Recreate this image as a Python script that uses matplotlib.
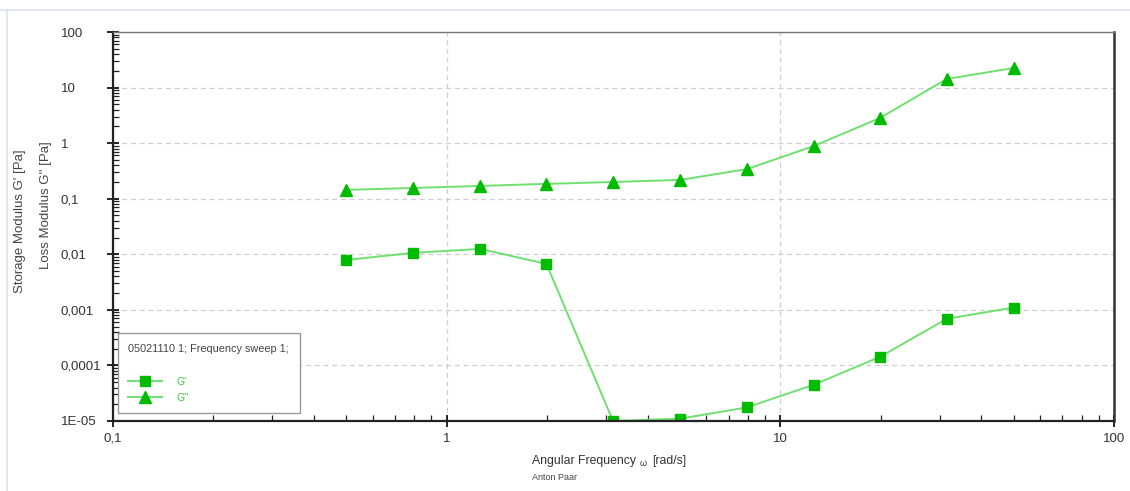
import numpy as np
import matplotlib
matplotlib.use('Agg')
import matplotlib.pyplot as plt
from matplotlib.lines import Line2D
from matplotlib.ticker import FixedLocator, FixedFormatter, LogLocator, NullFormatter

plt.rcParams['font.family'] = ['Liberation Sans', 'DejaVu Sans']

# Frequency sweep data
omega = [0.5, 0.792, 1.26, 1.99, 3.15, 5.0, 7.92, 12.6, 19.9, 31.5, 50.0]
g_storage = [0.0079, 0.0106, 0.0125, 0.0067, 1.0e-5, 1.1e-5, 1.75e-5, 4.5e-5, 1.43e-4, 6.9e-4, 1.1e-3]
g_loss = [0.144, 0.156, 0.17, 0.185, 0.2, 0.218, 0.34, 0.89, 2.85, 14.3, 22.5]

y_ticks = [1e-5, 1e-4, 1e-3, 1e-2, 1e-1, 1, 10, 100]
y_labels = ['1E-05', '0,0001', '0,001', '0,01', '0,1', '1', '10', '100']
x_ticks = [0.1, 1, 10, 100]
x_labels = ['0,1', '1', '10', '100']

line_col = '#6fe06f'
mark_col = '#00bb00'

fig = plt.figure(figsize=(11.3, 4.91), dpi=100)
ax = fig.add_axes([0.1, 0.1426, 0.886, 0.7922])

ax.plot(omega, g_storage, color=line_col, lw=1.4, marker='s', ms=7.5,
        mfc=mark_col, mec=mark_col, label="G'")
ax.plot(omega, g_loss, color=line_col, lw=1.4, marker='^', ms=8,
        mfc=mark_col, mec=mark_col, label="G''")

ax.set_xscale('log')
ax.set_yscale('log')
ax.set_xlim(0.1, 100)
ax.set_ylim(1e-5, 100)

ax.xaxis.set_major_locator(FixedLocator(x_ticks))
ax.xaxis.set_major_formatter(FixedFormatter(x_labels))
ax.yaxis.set_major_locator(FixedLocator(y_ticks))
ax.yaxis.set_major_formatter(FixedFormatter(y_labels))
ax.xaxis.set_minor_locator(LogLocator(base=10, subs=np.arange(2, 10), numticks=20))
ax.yaxis.set_minor_locator(LogLocator(base=10, subs=np.arange(2, 10), numticks=20))
ax.xaxis.set_minor_formatter(NullFormatter())
ax.yaxis.set_minor_formatter(NullFormatter())

ax.tick_params(which='major', direction='inout', length=9, width=1.2, labelsize=9.5,
               colors='black', labelcolor='#333333', pad=4)
ax.tick_params(which='minor', direction='in', length=4, width=0.9, color='#222222')
# y tick labels are left aligned in the original
ax.tick_params(axis='y', which='major', pad=33)
for lab in ax.get_yticklabels():
    lab.set_horizontalalignment('left')

ax.grid(True, which='major', ls=(0, (4, 3)), color='#cfcfcf', lw=0.9)

for side in ['left', 'bottom']:
    ax.spines[side].set_linewidth(1.6)
    ax.spines[side].set_color('#222222')
ax.spines['right'].set_linewidth(1.8)
ax.spines['right'].set_color('#333333')
ax.spines['top'].set_linewidth(1.0)
ax.spines['top'].set_color('#777777')

leg = ax.legend(title='05021110 1; Frequency sweep 1;\n', loc='lower left',
                bbox_to_anchor=(0.005, 0.02), borderaxespad=0, fontsize=7.5,
                title_fontsize=7.8, labelcolor='#33cc33', handlelength=3.2,
                handletextpad=1.4, fancybox=False, edgecolor='#999999',
                framealpha=1, alignment='left', labelspacing=0.6,
                borderpad=1.0)
leg.get_title().set_color('#444444')
leg.get_title().set_linespacing(1.8)
leg.get_frame().set_linewidth(1.0)

fig.text(0.018, 0.55, "Storage Modulus G' [Pa]", rotation=90, ha='center',
         va='center', fontsize=9.5, color='#444444')
fig.text(0.041, 0.583, "Loss Modulus G'' [Pa]", rotation=90, ha='center',
         va='center', fontsize=9.5, color='#444444')
fig.text(0.563, 0.061, 'Angular Frequency', ha='right', va='center', fontsize=8.8,
         color='#333333')
fig.text(0.566, 0.057, '\u03c9', ha='left', va='center', fontsize=6.5,
         color='#333333')
fig.text(0.577, 0.061, '[rad/s]', ha='left', va='center', fontsize=8.8,
         color='#333333')
fig.text(0.491, 0.028, 'Anton Paar', ha='center', va='center', fontsize=6.5,
         color='#444444')

# light frame lines of the exported page
fig.add_artist(Line2D([0, 1], [0.98, 0.98], transform=fig.transFigure,
                      color='#dbe3f3', lw=1.2))
fig.add_artist(Line2D([0.006, 0.006], [0, 0.98], transform=fig.transFigure,
                      color='#dbe3f3', lw=1.2))

fig.savefig('out.png', dpi=100)
